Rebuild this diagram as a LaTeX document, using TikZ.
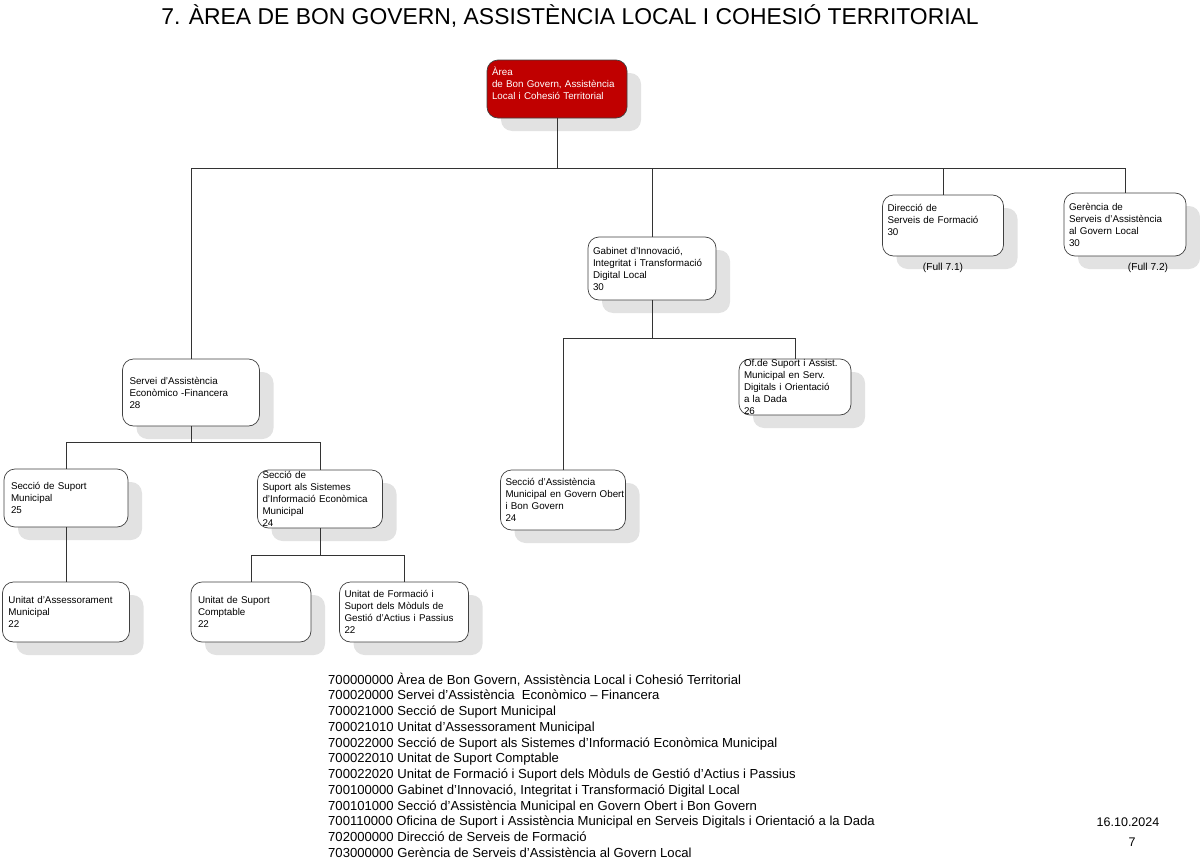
\documentclass[tikz,border=0pt]{standalone}
\usepackage{fontspec}
\setmainfont{Liberation Sans}
\usetikzlibrary{shadows}
\definecolor{redbox}{HTML}{C00000}
\definecolor{shadowgray}{HTML}{E2E2E2}
\begin{document}
\begin{tikzpicture}[x=1pt,y=-1pt,
  orgbox/.style={draw=black!75, line width=0.7pt, fill=white, rounded corners=11pt,
    align=left, inner xsep=5pt, inner ysep=0pt, anchor=center,
    font=\fontsize{9.8}{12}\selectfont,
    drop shadow={shadow xshift=14pt, shadow yshift=-13pt, fill=shadowgray, opacity=1, draw=none}},
  conn/.style={draw=black!80, line width=0.7pt},
  note/.style={font=\fontsize{10.2}{12}\selectfont, inner sep=0pt}]
\useasboundingbox (0,0) rectangle (1200,862);
% title
\node[font=\fontsize{22.9}{26}\selectfont, inner sep=0pt] (title) at (570,16) {7. ÀREA DE BON GOVERN, ASSISTÈNCIA LOCAL I COHESIÓ TERRITORIAL};
% boxes
\node[orgbox, fill=redbox, text=white, minimum width=140pt, minimum height=58pt, text width=130pt] (top) at (557,89) {Àrea\\de Bon Govern, Assistència\\Local i Cohesió Territorial\\\mbox{}};
\node[orgbox, minimum width=128pt, minimum height=63pt, text width=118pt] (gab) at (652,268.5) {Gabinet d'Innovació,\\Integritat i Transformació\\Digital Local\\30};
\node[orgbox, minimum width=121pt, minimum height=61pt, text width=111pt] (dir) at (943,225.5) {Direcció de\\Serveis de Formació\\30\\\mbox{}};
\node[orgbox, minimum width=122pt, minimum height=63pt, text width=112pt] (ger) at (1125,224.5) {Gerència de\\Serveis d'Assistència\\al Govern Local\\30};
\node[orgbox, inner xsep=7pt, minimum width=137pt, minimum height=67pt, text width=123pt] (serv) at (191,392.5) {Servei d'Assistència\\Econòmico -Financera\\28};
\node[orgbox, inner xsep=7pt, minimum width=124pt, minimum height=58pt, text width=110pt] (ssm) at (66,498) {Secció de Suport\\Municipal\\25};
\node[orgbox, minimum width=125pt, minimum height=58pt, text width=115pt] (sss) at (320,499) {Secció de\\Suport als Sistemes\\d'Informació Econòmica\\Municipal\\24};
\node[orgbox, inner xsep=6pt, minimum width=127pt, minimum height=60pt, text width=115pt] (uam) at (66,612) {Unitat d'Assessorament\\Municipal\\22};
\node[orgbox, inner xsep=7pt, minimum width=120pt, minimum height=60pt, text width=106pt] (usc) at (251,612) {Unitat de Suport\\Comptable\\22};
\node[orgbox, minimum width=129pt, minimum height=60pt, text width=119pt] (ufs) at (404,612) {Unitat de Formació i\\Suport dels Mòduls de\\Gestió d'Actius i Passius\\22};
\node[orgbox, inner xsep=5pt, minimum width=125pt, minimum height=60pt, text width=115pt] (sam) at (563,500) {Secció d'Assistència\\\mbox{Municipal en Govern Obert}\\i Bon Govern\\24};
\node[orgbox, minimum width=112pt, minimum height=56pt, text width=102pt] (ofs) at (795,387) {Of.de Suport i Assist.\\Municipal en Serv.\\Digitals i Orientació\\a la Dada\\26};
% notes
\node[note] (f71) at (943,268) {(Full 7.1)};
\node[note] (f72) at (1148,268) {(Full 7.2)};
% bus coordinates
\coordinate (b1) at (0,168);
\coordinate (b2) at (0,442);
\coordinate (b3) at (0,555);
\coordinate (b4) at (0,338);
% connectors
\draw[conn] (top.south) -- (top.south |- b1);
\draw[conn] (serv.north) -- (serv.north |- b1) -- (ger.north |- b1) -- (ger.north);
\draw[conn] (gab.north) -- (gab.north |- b1);
\draw[conn] (dir.north) -- (dir.north |- b1);
\draw[conn] (serv.south) -- (serv.south |- b2);
\draw[conn] (ssm.north) -- (ssm.north |- b2) -- (sss.north |- b2) -- (sss.north);
\draw[conn] (ssm.south) -- (uam.north);
\draw[conn] (sss.south) -- (sss.south |- b3);
\draw[conn] (usc.north) -- (usc.north |- b3) -- (ufs.north |- b3) -- (ufs.north);
\draw[conn] (gab.south) -- (gab.south |- b4);
\draw[conn] (sam.north) -- (sam.north |- b4) -- (ofs.north |- b4) -- (ofs.north);
% legend
\node[anchor=north west, align=left, inner sep=0pt, font=\fontsize{13.1}{15.75}\selectfont] (legend) at (328,672.5) {700000000 Àrea de Bon Govern, Assistència Local i Cohesió Territorial\\
700020000 Servei d'Assistència\ \ Econòmico – Financera\\
700021000 Secció de Suport Municipal\\
700021010 Unitat d'Assessorament Municipal\\
700022000 Secció de Suport als Sistemes d'Informació Econòmica Municipal\\
700022010 Unitat de Suport Comptable\\
700022020 Unitat de Formació i Suport dels Mòduls de Gestió d'Actius i Passius\\
700100000 Gabinet d'Innovació, Integritat i Transformació Digital Local\\
700101000 Secció d'Assistència Municipal en Govern Obert i Bon Govern\\
700110000 Oficina de Suport i Assistència Municipal en Serveis Digitals i Orientació a la Dada\\
702000000 Direcció de Serveis de Formació\\
703000000 Gerència de Serveis d'Assistència al Govern Local};
\node[font=\fontsize{12.5}{15}\selectfont, inner sep=0pt] (date) at (1128,822) {16.10.2024};
\node[font=\fontsize{12.5}{15}\selectfont, inner sep=0pt] (page) at (1132,842) {7};
\end{tikzpicture}
\end{document}
